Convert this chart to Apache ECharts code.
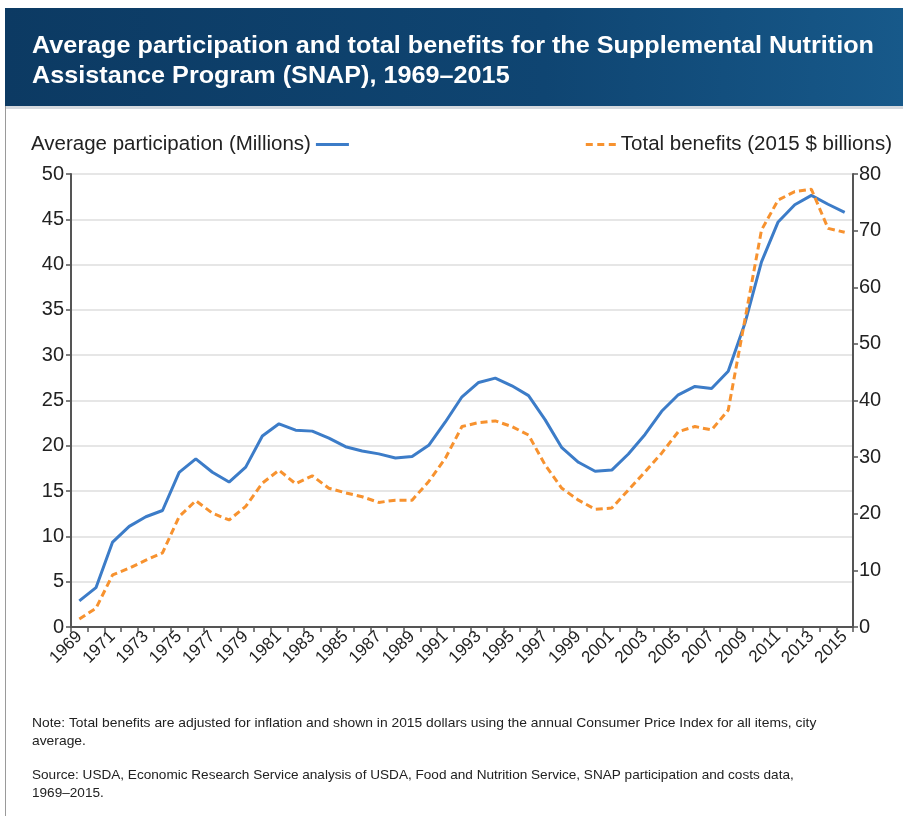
<!DOCTYPE html>
<html><head><meta charset="utf-8">
<script src="https://cdn.jsdelivr.net/npm/echarts@6/dist/echarts.min.js"></script>
<style>html,body{margin:0;padding:0;background:#fff}#c{width:903px;height:816px}</style>
</head><body><div id="c"></div>
<script>
const years = [];
for (let y = 1969; y <= 2015; y++) years.push(String(y));
const participation = [2.88,4.34,9.37,11.11,12.17,12.86,17.06,18.55,17.08,16.00,17.65,21.08,22.43,21.72,21.62,20.85,19.90,19.43,19.11,18.65,18.81,20.05,22.63,25.41,26.99,27.47,26.62,25.54,22.86,19.79,18.18,17.19,17.32,19.10,21.25,23.81,25.63,26.55,26.32,28.22,33.49,40.30,44.71,46.61,47.64,46.66,45.77];
const benefits = [1.4,3.3,9.2,10.4,11.8,13.1,19.5,22.3,20.1,18.9,21.3,25.4,27.7,25.3,26.7,24.5,23.7,23.0,22.0,22.4,22.4,25.7,29.8,35.4,36.1,36.4,35.4,33.9,28.6,24.5,22.4,20.8,21.0,24.2,27.4,30.7,34.5,35.4,34.8,38.3,54.2,70.1,75.4,76.9,77.3,70.4,69.7];
const leftTicks = {min:0,max:50,interval:5};
const rightTicks = {min:0,max:80,interval:10};

const FONT = '"Liberation Sans", Arial, sans-serif';
const chart = echarts.init(document.getElementById('c'));
chart.setOption({
  animation:false,
  textStyle:{fontFamily:FONT},
  graphic:[
    {type:'rect', x:5, y:8, shape:{width:898, height:98},
     style:{fill:new echarts.graphic.LinearGradient(0,0,1,0,[{offset:0,color:'#0c3a63'},{offset:0.6,color:'#0f4572'},{offset:1,color:'#17598a'}])}},
    {type:'rect', x:5, y:106, shape:{width:898, height:3}, style:{fill:'#d5d9de'}},
    {type:'rect', x:5, y:106, shape:{width:1, height:710}, style:{fill:'#9a9a9a'}},
    {type:'text', x:32, y:31, scaleX:1.05, style:{text:'Average participation and total benefits for the Supplemental Nutrition\nAssistance Program (SNAP), 1969–2015', fill:'#ffffff', font:'bold 24px '+FONT, lineHeight:30}},
    {type:'text', x:32, y:714, scaleX:1.05, style:{text:'Note: Total benefits are adjusted for inflation and shown in 2015 dollars using the annual Consumer Price Index for all items, city\naverage.', fill:'#222', font:'13.2px '+FONT, lineHeight:18}},
    {type:'text', x:32, y:766, scaleX:1.03, style:{text:'Source: USDA, Economic Research Service analysis of USDA, Food and Nutrition Service, SNAP participation and costs data,\n1969–2015.', fill:'#222', font:'13.2px '+FONT, lineHeight:18}}
  ],
  legend:[
    {data:[{name:'Average participation (Millions)', icon:'rect'}], left:26, top:129, align:'right', itemWidth:33, itemHeight:3, itemGap:6,
     textStyle:{fontSize:20.5, color:'#222', fontFamily:FONT}},
    {data:[{name:'Total benefits (2015 $ billions)', icon:'path://M0,0h7v3h-7z M11.5,0h7v3h-7z M23,0h7v3h-7z'}], right:6, top:129, align:'left', itemWidth:30, itemHeight:3, itemGap:6,
     textStyle:{fontSize:20.5, color:'#222', fontFamily:FONT}}
  ],
  grid:{left:71, right:50, top:174, bottom:189, containLabel:false},
  xAxis:{type:'category', data:years, boundaryGap:true,
    axisLine:{lineStyle:{color:'#555', width:2}},
    axisTick:{show:true, interval:0, length:5, lineStyle:{color:'#555', width:1.5}},
    axisLabel:{interval:1, rotate:45, fontSize:17, color:'#222', margin:7, fontFamily:FONT}},
  yAxis:[
    {type:'value', min:leftTicks.min, max:leftTicks.max, interval:leftTicks.interval,
     axisLine:{show:true, lineStyle:{color:'#555', width:2}},
     axisTick:{show:true, length:5, lineStyle:{color:'#555', width:1.5}},
     axisLabel:{fontSize:20, color:'#222', margin:7, fontFamily:FONT},
     splitLine:{show:true, lineStyle:{color:'#e6e6e6', width:2}}},
    {type:'value', min:rightTicks.min, max:rightTicks.max, interval:rightTicks.interval, position:'right',
     axisLine:{show:true, lineStyle:{color:'#555', width:2}},
     axisTick:{show:true, length:5, lineStyle:{color:'#555', width:1.5}},
     axisLabel:{fontSize:20, color:'#222', margin:6, fontFamily:FONT},
     splitLine:{show:false}}
  ],
  series:[
    {name:'Average participation (Millions)', type:'line', yAxisIndex:0, data:participation, symbol:'none',
     lineStyle:{color:'#3c7cc8', width:3}, itemStyle:{color:'#3c7cc8'}},
    {name:'Total benefits (2015 $ billions)', type:'line', yAxisIndex:1, data:benefits, symbol:'none',
     lineStyle:{color:'#f7922f', width:3, type:[7,4]}, itemStyle:{color:'#f7922f'}}
  ]
});
</script></body></html>
